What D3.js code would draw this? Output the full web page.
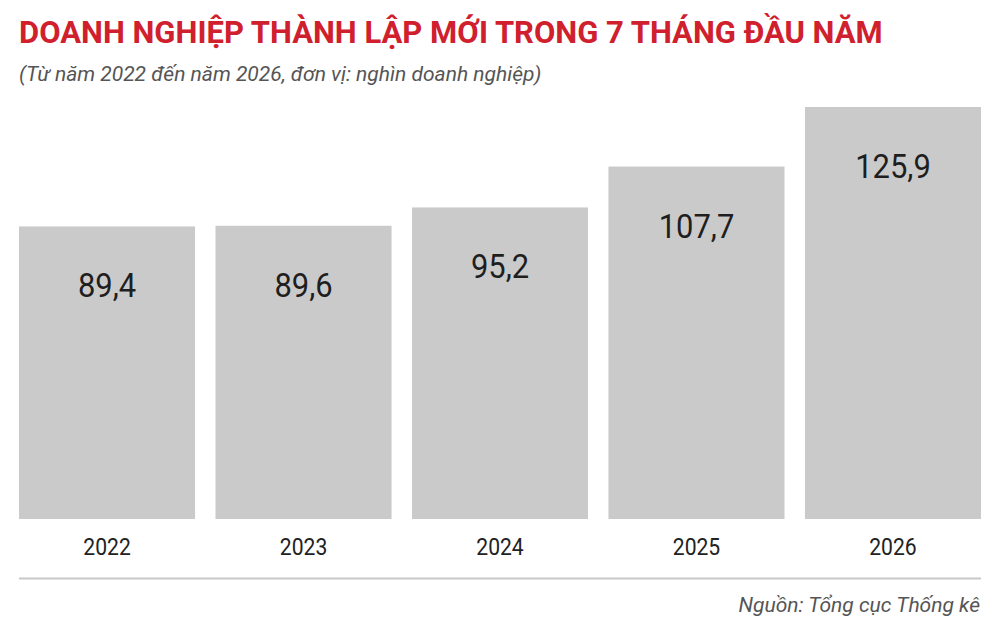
<!DOCTYPE html>
<html lang="vi">
<head>
    <meta charset="UTF-8">
    <title>Doanh nghiệp thành lập mới</title>
    <style>
        body { margin: 0; background: #fff; }
        svg text { font-family: Roboto, "Noto Sans", sans-serif; }
    </style>
</head>
<body>
    <div class="chart"></div>

    <script src="https://d3js.org/d3.v7.min.js"></script>
    <script>
        var years = ["2022", "2023", "2024", "2025", "2026"]
        var values = [89.4, 89.6, 95.2, 107.7, 125.9]
        var title = "DOANH NGHIỆP THÀNH LẬP MỚI TRONG 7 THÁNG ĐẦU NĂM"
        var subtitle = "(Từ năm 2022 đến năm 2026, đơn vị: nghìn doanh nghiệp)"
        var source = "Nguồn: Tổng cục Thống kê"

        var width = 1000
        var height = 622
        var left = 19, right = 981
        var baseY = 519

        var svg = d3.select(".chart").append("svg")
            .attr("width", width)
            .attr("height", height)

        // narrow text a bit, the original uses a condensed face
        function condensed(sel, x, y, k) {
            sel.attr("transform", "translate(" + x + "," + y + ") scale(" + k + ",1)")
        }

        svg.append("text")
            .text(title)
            .attr("font-weight", "bold")
            .attr("font-size", 31)
            .attr("fill", "#d0202e")
            .call(condensed, 19, 43, 1.0)

        svg.append("text")
            .text(subtitle)
            .attr("font-style", "italic")
            .attr("font-size", 21)
            .attr("fill", "#555")
            .call(condensed, 19, 81, 1.0)

        var x = d3.scaleBand()
            .domain(years)
            .range([left, right])
            .paddingInner(0.104)
            .paddingOuter(0)

        var y = d3.scaleLinear()
            .domain([0, 125.9])
            .range([baseY, 107])

        var g = svg.append("g")

        g.selectAll("rect")
            .data(values)
            .enter()
            .append("rect")
            .attr("x", (d, i) => x(years[i]))
            .attr("y", d => y(d))
            .attr("width", x.bandwidth())
            .attr("height", d => baseY - y(d))
            .attr("fill", "#cbcacb")

        g.selectAll("text.val")
            .data(values)
            .enter()
            .append("text")
            .attr("class", "val")
            .text(d => d.toFixed(1).replace(".", ","))
            .attr("font-size", 34)
            .attr("fill", "#1e1e1e")
            .attr("text-anchor", "middle")
            .each(function(d, i) {
                d3.select(this).call(condensed, x(years[i]) + x.bandwidth() / 2, y(d) + 71, 0.91)
            })

        // year labels
        var axis = d3.axisBottom(x).tickSize(0).tickPadding(0)
        var ax = svg.append("g")
            .attr("transform", "translate(0," + baseY + ")")
            .call(axis)
        ax.select(".domain").remove()
        ax.selectAll(".tick text")
            .attr("font-size", 24)
            .attr("fill", "#222")
            .attr("dy", 0)
            .attr("y", 0)
            .attr("transform", "translate(0,36) scale(0.88,1)")

        svg.append("line")
            .attr("x1", left)
            .attr("x2", right)
            .attr("y1", 578.5)
            .attr("y2", 578.5)
            .attr("stroke", "#c8c8c8")
            .attr("stroke-width", 2)

        svg.append("text")
            .text(source)
            .attr("font-style", "italic")
            .attr("font-size", 21)
            .attr("fill", "#555")
            .attr("text-anchor", "end")
            .call(condensed, 980, 612, 1.0)
    </script>
</body>
</html>
